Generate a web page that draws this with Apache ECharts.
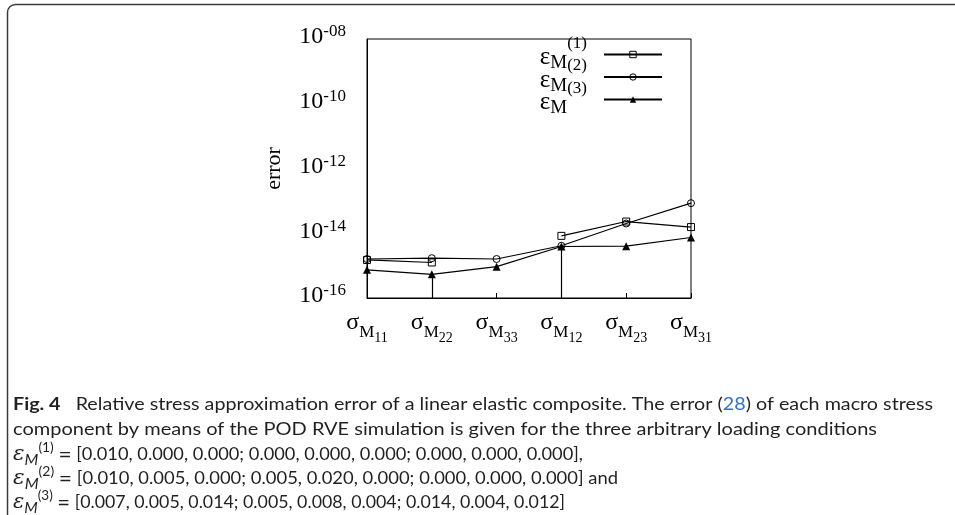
<!DOCTYPE html>
<html>
<head>
<meta charset="utf-8">
<script src="https://cdn.jsdelivr.net/npm/echarts@6/dist/echarts.min.js"></script>
<style>
  html, body { margin: 0; padding: 0; background: #fff; }
  #Chart { width: 955px; height: 515px; }
</style>
</head>
<body>
<div id="Chart"></div>
<script>
  // stress components sigma_M_xx on the x axis
  var components = ['11', '22', '33', '12', '23', '31']
  var loadCases = ['(1)', '(2)', '(3)']
  // relative error per component, one array per loading condition
  var err1 = [1.5e-15, 1.25e-15, null, 8.3e-15, 2.3e-14, 1.55e-14]
  var err2 = [1.6e-15, 1.7e-15, 1.6e-15, 4.1e-15, 2.0e-14, 8.5e-14]
  var err3 = [7.4e-16, 5.4e-16, 9.3e-16, 3.9e-15, 4.0e-15, 7.4e-15]
  // components where a line falls to the bottom of the log axis
  var dropAt = [1, 3]
  // decades shown on the y axis (every second one labelled)
  var yExp = [-16, -14, -12, -10, -8]
  // loading conditions written under the figure
  var strains = [
    '[0.010, 0.000, 0.000; 0.000, 0.000, 0.000; 0.000, 0.000, 0.000],',
    '[0.010, 0.005, 0.000; 0.005, 0.020, 0.000; 0.000, 0.000, 0.000] and',
    '[0.007, 0.005, 0.014; 0.005, 0.008, 0.004; 0.014, 0.004, 0.012]'
  ]

  var serif = '"Liberation Serif", "Times New Roman", serif'
  var capFamily = 'Lato, "Open Sans", sans-serif'
  var capSize = 16.5
  var ink = '#231f20'
  var names = loadCases.map(function (c) { return 'eps' + c })
  var yMin = Math.pow(10, yExp[0])

  function pad(e) {
    var a = Math.abs(e)
    return (e < 0 ? '-' : '') + (a < 10 ? '0' + a : '' + a)
  }

  // caption line, squeezed horizontally to the width it has in the figure
  function capText(text, rich, y, right) {
    var style = {
      text: text, fontSize: capSize, fontFamily: capFamily, fill: ink,
      verticalAlign: 'middle', rich: rich || {}
    }
    var w = new echarts.graphic.Text({ style: style }).getBoundingRect().width
    return { type: 'text', x: 13, y: y, scaleX: (right - 13) / w, silent: true, style: style }
  }

  var epsRich = {
    e: { fontSize: capSize + 3, fontFamily: '"DejaVu Serif", serif', fontStyle: 'italic', fill: ink },
    m: { fontSize: capSize - 2, fontFamily: capFamily, fontStyle: 'italic', fill: ink, padding: [10, 0, 0, 0] },
    s: { fontSize: capSize - 4, fontFamily: capFamily, fill: ink, padding: [0, 0, 14, 0] },
    q: { fontSize: capSize + 4, fontFamily: capFamily, fill: ink }
  }
  function capEps(k, y, right) {
    return capText('{e|ε}{m|M}{s|' + loadCases[k] + '} {q|=} ' + strains[k], epsRich, y, right)
  }

  var Chart = echarts.init(document.getElementById('Chart'))

  var lineStyle = { color: '#000', width: 1.2 }
  var hollow = { color: 'transparent', borderColor: '#000', borderWidth: 1 }

  Chart.setOption({
    animation: false,
    grid: {
      left: 367, right: 264, top: 39, bottom: 217,
      show: true, borderColor: '#000', borderWidth: 1,
      outerBoundsMode: 'none'
    },
    legend: {
      data: names,
      orient: 'vertical',
      right: 292, top: 35,
      padding: 0,
      align: 'right',
      itemWidth: 58, itemHeight: 8, itemGap: -15.5,
      selectedMode: false,
      itemStyle: { borderWidth: 1 },
      formatter: function (name) {
        return '{e|ε}{m|M}{s|' + loadCases[names.indexOf(name)] + '}'
      },
      textStyle: {
        rich: {
          e: { fontSize: 25, fontFamily: serif, color: '#000', padding: [6, 0, 0, 0] },
          m: { fontSize: 19, fontFamily: serif, color: '#000', padding: [18, 0, 0, 0] },
          s: { fontSize: 17, fontFamily: serif, color: '#000', padding: [0, 12, 22, 0] }
        }
      }
    },
    xAxis: {
      type: 'category',
      data: components,
      boundaryGap: false,
      axisLine: { lineStyle: { color: '#000', width: 1 } },
      axisTick: { inside: true, length: 5, lineStyle: { color: '#000' } },
      splitLine: { show: false },
      axisLabel: {
        interval: 0,
        hideOverlap: false,
        margin: 3,
        formatter: function (v) { return '{s|σ}{m|M}{n|' + v + '}' },
        rich: {
          s: { fontSize: 24, fontFamily: serif, color: '#000' },
          m: { fontSize: 17, fontFamily: serif, color: '#000', padding: [20, 0, 0, 0] },
          n: { fontSize: 14, fontFamily: serif, color: '#000', padding: [30, 0, 0, 0] }
        }
      }
    },
    yAxis: {
      type: 'log',
      logBase: 10,
      min: yMin,
      max: Math.pow(10, yExp[yExp.length - 1]),
      interval: 2,
      name: 'error',
      nameLocation: 'middle',
      nameGap: 82,
      nameTextStyle: { fontSize: 22, fontFamily: serif, color: '#000' },
      axisLine: { show: true, lineStyle: { color: '#000', width: 1 } },
      axisTick: { inside: true, length: 5, lineStyle: { color: '#000' } },
      splitLine: { show: false },
      axisLabel: {
        margin: 21,
        formatter: function (v) {
          return '{b|10}{p|' + pad(Math.round(Math.log10(v))) + '}'
        },
        rich: {
          b: { fontSize: 24, fontFamily: serif, color: '#000', padding: [0, 0, 4, 0] },
          p: { fontSize: 17, fontFamily: serif, color: '#000', padding: [0, 0, 14, 0] }
        }
      }
    },
    series: [
      {
        name: names[0], type: 'line', data: err1,
        symbol: 'rect', symbolSize: 7, showAllSymbol: true,
        lineStyle: lineStyle, itemStyle: hollow, emphasis: { disabled: true }
      },
      {
        name: names[1], type: 'line', data: err2,
        symbol: 'circle', symbolSize: 7, showAllSymbol: true,
        lineStyle: lineStyle, itemStyle: hollow, emphasis: { disabled: true }
      },
      {
        name: names[2], type: 'line', data: err3,
        symbol: 'triangle', symbolSize: 8, showAllSymbol: true,
        lineStyle: lineStyle, itemStyle: { color: '#000' }, emphasis: { disabled: true },
        markLine: {
          silent: true, symbol: 'none', label: { show: false },
          lineStyle: { color: '#000', width: 1.2, type: 'solid' },
          data: dropAt.map(function (i) {
            return [{ coord: [i, err3[i]] }, { coord: [i, yMin] }]
          })
        }
      }
    ],
    graphic: [
      {
        type: 'rect', silent: true,
        shape: { x: 7.5, y: 4.5, width: 1000, height: 520, r: 8 },
        style: { fill: 'none', stroke: '#3a3a3a', lineWidth: 1.5 }
      },
      capText('{b|Fig. 4}   Relative stress approximation error of a linear elastic composite. The error ({l|28}) of each macro stress', {
        b: { fontSize: capSize, fontFamily: capFamily, fontWeight: 'bold', fill: ink },
        l: { fontSize: capSize, fontFamily: capFamily, fill: '#2f6fd0' }
      }, 405, 933),
      capText('component by means of the POD RVE simulation is given for the three arbitrary loading conditions', null, 430, 877),
      capEps(0, 455, 583),
      capEps(1, 479, 618),
      capEps(2, 503, 565)
    ]
  })
</script>
</body>
</html>
